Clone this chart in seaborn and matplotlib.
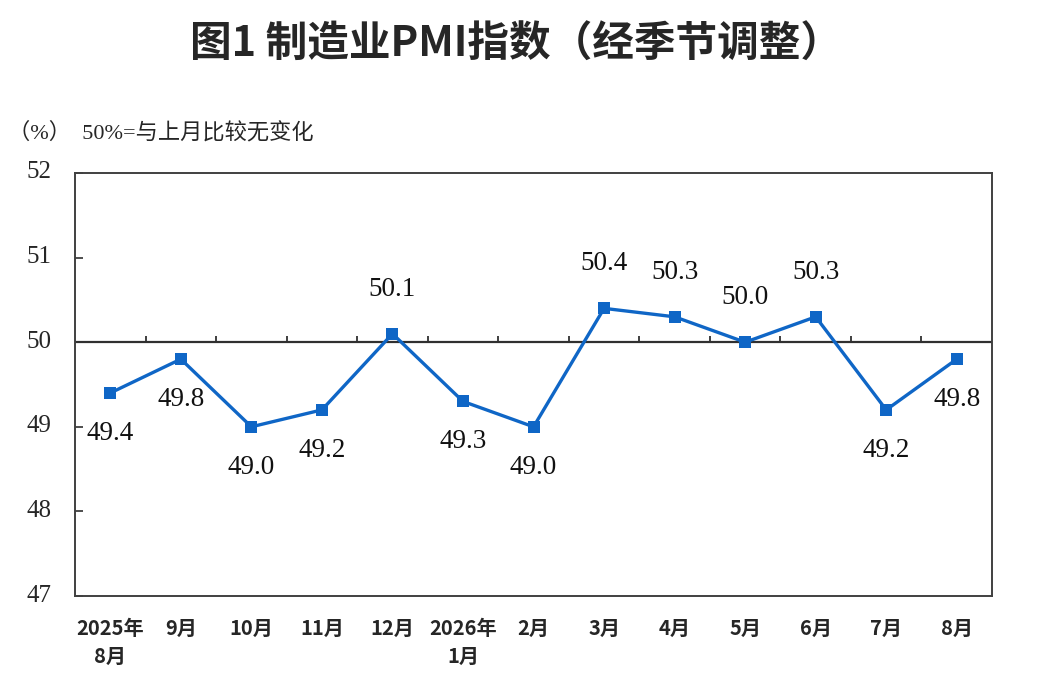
import matplotlib
matplotlib.use('Agg')
import matplotlib.pyplot as plt
import matplotlib.transforms as mtransforms
import seaborn as sns
import pandas as pd

# data
months = ['2025年\n8月', '9月', '10月', '11月', '12月', '2026年\n1月', '2月',
          '3月', '4月', '5月', '6月', '7月', '8月']
pmi = [49.4, 49.8, 49.0, 49.2, 50.1, 49.3, 49.0, 50.4, 50.3, 50.0, 50.3, 49.2, 49.8]
label_above = [False, False, False, False, True, False, False, True, True, True, True, False, False]

title = '图1 制造业PMI指数（经季节调整）'
note = '（%）  50%=与上月比较无变化'
y_ticks = [47, 48, 49, 50, 51, 52]

sns.set_theme(style='white')
plt.rcParams['font.family'] = ['Liberation Serif', 'Noto Sans CJK SC']

df = pd.DataFrame({'month': months, 'pmi': pmi})

fig = plt.figure(figsize=(10.48, 6.9), dpi=100)
ax = fig.add_axes([0.0716, 0.1362, 0.8750, 0.6131])

line_color = '#0f66c6'
sns.lineplot(data=df, x='month', y='pmi', ax=ax, color=line_color, linewidth=2.4,
             marker='s', markersize=8.5, markeredgewidth=0, sort=False)

ax.set_xlim(-0.5, len(months) - 0.5)
ax.set_ylim(y_ticks[0], y_ticks[-1])
ax.set_yticks(y_ticks)
ax.set_xlabel('')
ax.set_ylabel('')

# 50 reference line with small upward ticks between months
ax.axhline(50, color='#303030', linewidth=1.6, zorder=1)
ax.vlines([i + 0.5 for i in range(len(months) - 1)], 50, 50.075,
          color='#303030', linewidth=1.3, zorder=1)

for sp in ax.spines.values():
    sp.set_color('#404040')
    sp.set_linewidth(1.4)

ax.tick_params(axis='y', direction='in', length=6, width=1.3, color='#404040',
               pad=17, labelsize=18, left=True)
shift = mtransforms.ScaledTranslation(0, 3 / 100, fig.dpi_scale_trans)
for t in ax.get_yticklabels():
    t.set_transform(t.get_transform() + shift)

ax.tick_params(axis='x', length=0, pad=16)
ax.set_xticks(range(len(months)))
ax.set_xticklabels(months, fontsize=14.5, fontweight='bold',
                   family=['Noto Sans CJK SC'], linespacing=1.4)
for t in ax.get_xticklabels():
    t.set_verticalalignment('top')

for i, (v, up) in enumerate(zip(pmi, label_above)):
    dy = 32 if up else -29
    ax.annotate(f'{v:.1f}', (i, v), xytext=(0, dy), textcoords='offset points',
                ha='center', va='center', fontsize=19.5, color='#111111')

fig.text(0.492, 0.935, title, ha='center', va='center', fontsize=30,
         fontweight='bold', family=['Noto Sans CJK SC'])
fig.text(0.008, 0.807, note, ha='left', va='center', fontsize=16,
         family=['Liberation Serif', 'Noto Sans CJK SC'])

fig.savefig('out.png', dpi=100)
